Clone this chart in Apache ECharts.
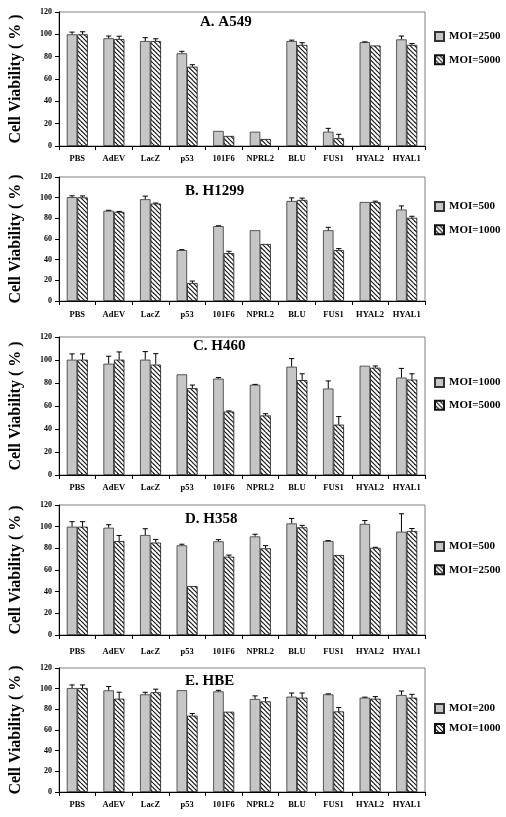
<!DOCTYPE html>
<html>
<head>
<meta charset="utf-8">
<script src="https://cdn.jsdelivr.net/npm/echarts@6/dist/echarts.min.js"></script>
<style>
html,body{margin:0;padding:0;background:#fff;}
#chart{width:506px;height:817px;}
</style>
</head>
<body>
<div id="chart"></div>
<script>
// ---------- data ----------
const categories = ['PBS','AdEV','LacZ','p53','101F6','NPRL2','BLU','FUS1','HYAL2','HYAL1'];
const yTicks = [0, 20, 40, 60, 80, 100, 120];

const panelTitles = ['A. A549', 'B. H1299', 'C. H460', 'D. H358', 'E. HBE'];
const seriesNamesA = ['MOI=2500', 'MOI=5000'];
const seriesNamesB = ['MOI=500', 'MOI=1000'];
const seriesNamesC = ['MOI=1000', 'MOI=5000'];
const seriesNamesD = ['MOI=500', 'MOI=2500'];
const seriesNamesE = ['MOI=200', 'MOI=1000'];

const a1 = [100, 96.5, 94, 83, 13.5, 12.8, 94, 12.8, 93, 95.5];
const a1Err = [2, 2, 3, 1.8, 0, 0, 0.8, 3, 0.3, 3];
const a2 = [100, 95.8, 94, 71, 9, 6.3, 90.5, 7, 90, 90.5];
const a2Err = [2.3, 2.5, 2, 1.8, 0, 0, 2, 3.5, 0, 1.2];

const b1 = [100.5, 87.3, 98.5, 49.3, 72.5, 68.5, 96.8, 68.5, 95.8, 88.5];
const b1Err = [1.3, 0.5, 3, 0.4, 0.3, 0, 3, 2.8, 0, 3.5];
const b2 = [100.3, 86.2, 94.3, 17.4, 46.3, 55.2, 97.8, 49.2, 95.8, 80.5];
const b2Err = [1.4, 0.5, 0.5, 1.9, 1.8, 0, 1.8, 1.5, 0.8, 1.5];

const c1 = [100.3, 96.8, 100.3, 87.5, 83.8, 78.5, 94.2, 75.2, 95, 84.7];
const c1Err = [5, 6.5, 7, 0, 1, 0.3, 7, 6.6, 0, 8];
const c2 = [100.3, 100.3, 96, 75.5, 55.2, 51.8, 82.5, 43.8, 93.3, 83];
const c2Err = [5, 6.7, 9.5, 2.7, 0.5, 1.5, 5.5, 7, 1.5, 5];

const d1 = [100, 99, 92.3, 82.8, 86.5, 91, 103, 86.8, 102.5, 95.4];
const d1Err = [4.6, 2.8, 5.8, 1, 1.5, 2, 4.6, 0.3, 3.2, 16.5];
const d2 = [100, 86.7, 85.3, 45.2, 72.3, 80, 99.4, 73.8, 80.5, 96];
const d2Err = [4.6, 5.2, 2.9, 0, 1.5, 2.5, 1.8, 0, 0.5, 2.3];

const e1 = [100.6, 98.4, 94.5, 98.5, 97.4, 90, 92.3, 94.5, 91.3, 93.9];
const e1Err = [3, 3.7, 2, 0, 1, 3, 3.5, 0.5, 0.5, 3.8];
const e2 = [100.6, 90.3, 96.5, 73.9, 77.7, 87.7, 91.3, 78, 90.3, 91.3];
const e2Err = [3, 6.3, 3, 2, 0, 3.5, 4.5, 3.8, 2, 3.2];

// ---------- layout / style ----------
const FONT = "'Liberation Serif','Times New Roman',serif";
const GRAY = '#c6c6c6';
const BAR_W = 10.5;

function makeHatch() {
  const s = 4.5;
  const c = document.createElement('canvas');
  c.width = 9; c.height = 9;
  const ctx = c.getContext('2d');
  ctx.fillStyle = '#fff';
  ctx.fillRect(0, 0, 9, 9);
  ctx.strokeStyle = '#1a1a1a';
  ctx.lineWidth = 1.2;
  for (let x = -9; x <= 9; x += s) {
    ctx.beginPath();
    ctx.moveTo(x, 0);
    ctx.lineTo(x + 9, 9);
    ctx.stroke();
  }
  return c;
}
const hatch = { image: makeHatch(), repeat: 'repeat' };

const panels = [
  { key: 'A', names: seriesNamesA, s1: a1, e1: a1Err, s2: a2, e2: a2Err, top: 12, height: 134, titleLeft: 200, titleTop: 15, legendTop: 31, legendGap: 12.3, labelMargin: 8 },
  { key: 'B', names: seriesNamesB, s1: b1, e1: b1Err, s2: b2, e2: b2Err, top: 177, height: 124, titleLeft: 185, titleTop: 184, legendTop: 201, legendGap: 12.3, labelMargin: 9 },
  { key: 'C', names: seriesNamesC, s1: c1, e1: c1Err, s2: c2, e2: c2Err, top: 337, height: 138, titleLeft: 193, titleTop: 339, legendTop: 377, legendGap: 11.7, labelMargin: 8 },
  { key: 'D', names: seriesNamesD, s1: d1, e1: d1Err, s2: d2, e2: d2Err, top: 505, height: 130, titleLeft: 185, titleTop: 512, legendTop: 541, legendGap: 12.3, labelMargin: 12 },
  { key: 'E', names: seriesNamesE, s1: e1, e1: e1Err, s2: e2, e2: e2Err, top: 668, height: 124, titleLeft: 185, titleTop: 674, legendTop: 703, legendGap: 9, labelMargin: 8 }
];

const grid = [], xAxis = [], yAxis = [], series = [], legend = [], title = [];

function errRender(offset) {
  return function (params, api) {
    const idx = api.value(0), val = api.value(1), err = api.value(2);
    if (!err) return null;
    const p0 = api.coord([idx, val]);
    const p1 = api.coord([idx, val + err]);
    const x = p0[0] + offset;
    const cap = 2.6;
    return {
      type: 'group',
      children: [
        { type: 'line', shape: { x1: x, y1: p0[1], x2: x, y2: p1[1] }, style: { stroke: '#000', lineWidth: 1 } },
        { type: 'line', shape: { x1: x - cap, y1: p1[1], x2: x + cap, y2: p1[1] }, style: { stroke: '#000', lineWidth: 1 } }
      ]
    };
  };
}

panels.forEach((p, i) => {
  grid.push({ left: 55, width: 370, top: p.top, height: p.height, show: true, borderColor: '#808080', borderWidth: 1, backgroundColor: 'transparent' });
  xAxis.push({
    type: 'category', gridIndex: i, data: categories,
    axisLine: { lineStyle: { color: '#000', width: 1 } },
    axisTick: { show: true, length: 4, lineStyle: { color: '#000' } },
    axisLabel: { fontFamily: FONT, fontWeight: 'bold', fontSize: 8.5, color: '#000', margin: p.labelMargin, interval: 0 }
  });
  yAxis.push({
    type: 'value', gridIndex: i, min: 0, max: 120, interval: 20,
    axisLine: { show: true, lineStyle: { color: '#000', width: 1 } },
    axisTick: { show: true, length: 4, lineStyle: { color: '#000' } },
    splitLine: { show: false },
    axisLabel: { fontFamily: FONT, fontWeight: 'bold', fontSize: 8, color: '#000', margin: 7,
      formatter: v => (yTicks.indexOf(v) >= 0 ? String(v) : '') },
    name: 'Cell Viability ( % )', nameLocation: 'middle', nameRotate: 90, nameGap: 35,
    nameTextStyle: { fontFamily: FONT, fontWeight: 'bold', fontSize: 16, color: '#000' }
  });
  const n1 = p.key + ':' + p.names[0];
  const n2 = p.key + ':' + p.names[1];
  series.push({
    type: 'bar', name: n1, xAxisIndex: i, yAxisIndex: i, data: p.s1,
    barWidth: BAR_W, barGap: '0%',
    itemStyle: { color: GRAY, borderColor: '#333', borderWidth: 0.8 }
  });
  series.push({
    type: 'bar', name: n2, xAxisIndex: i, yAxisIndex: i, data: p.s2,
    barWidth: BAR_W, barGap: '0%',
    itemStyle: { color: hatch, borderColor: '#111', borderWidth: 0.8 }
  });
  series.push({
    type: 'custom', name: p.key + '-err1', xAxisIndex: i, yAxisIndex: i, z: 5,
    data: p.s1.map((v, k) => [k, v, p.e1[k]]),
    encode: { x: 0, y: 1 },
    renderItem: errRender(-BAR_W / 2)
  });
  series.push({
    type: 'custom', name: p.key + '-err2', xAxisIndex: i, yAxisIndex: i, z: 5,
    data: p.s2.map((v, k) => [k, v, p.e2[k]]),
    encode: { x: 0, y: 1 },
    renderItem: errRender(BAR_W / 2)
  });
  legend.push({
    orient: 'vertical', left: 434, top: p.legendTop, itemGap: p.legendGap, padding: 0,
    itemWidth: 9, itemHeight: 9, icon: 'rect',
    data: [n1, n2], selectedMode: false,
    formatter: name => name.split(':')[1],
    textStyle: { fontFamily: FONT, fontWeight: 'bold', fontSize: 11, color: '#000' }
  });
  title.push({
    text: panelTitles[i], left: p.titleLeft, top: p.titleTop, padding: 0,
    textStyle: { fontFamily: FONT, fontWeight: 'bold', fontSize: 15, color: '#000' }
  });
});

const chart = echarts.init(document.getElementById('chart'), null, { renderer: 'canvas' });
chart.setOption({
  animation: false,
  backgroundColor: '#fff',
  title, grid, xAxis, yAxis, series, legend
});
</script>
</body>
</html>
